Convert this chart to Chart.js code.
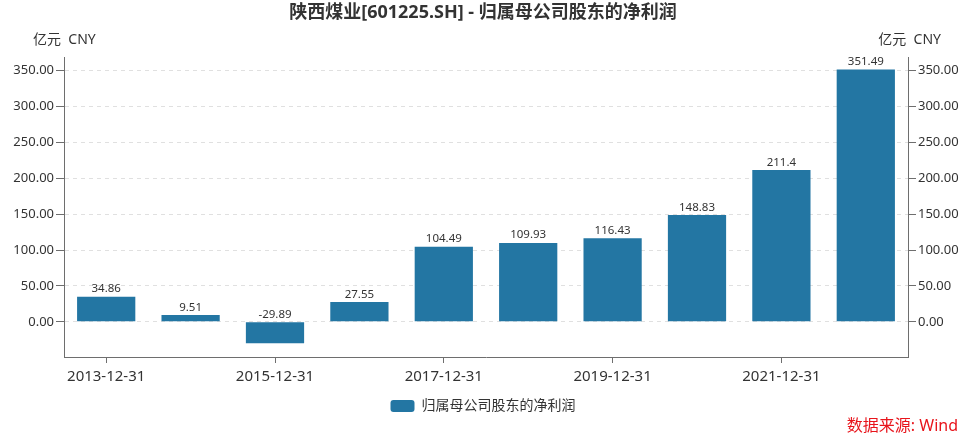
<!DOCTYPE html>
<html><head><meta charset="utf-8">
<script src="https://cdn.jsdelivr.net/npm/chart.js@4/dist/chart.umd.min.js"></script>
<style>html,body{margin:0;padding:0;background:#fff}#wrap{width:966px;height:438px}</style>
</head><body><div id="wrap"><canvas id="c" width="966" height="438"></canvas></div>
<script>
const categories = ["2013-12-31","2014-12-31","2015-12-31","2016-12-31","2017-12-31","2018-12-31","2019-12-31","2020-12-31","2021-12-31","2022-12-31"];
const seriesName = "归属母公司股东的净利润";
const values = [34.86, 9.51, -29.89, 27.55, 104.49, 109.93, 116.43, 148.83, 211.4, 351.49];
const valueLabels = ["34.86","9.51","-29.89","27.55","104.49","109.93","116.43","148.83","211.4","351.49"];
const yTicks = [0, 50, 100, 150, 200, 250, 300, 350];
const titleText = "陕西煤业[601225.SH] - 归属母公司股东的净利润";
const unitText = "亿元  CNY";
const sourceText = "数据来源: Wind";

const FONT = "'Noto Sans','Noto Sans CJK SC',sans-serif";
const BAR = "#2376a3";
const AXIS = "#6e6e6e";
const TXT = "#333333";

const extras = {
  id: 'extras',
  afterDatasetsDraw(chart) {
    const ctx = chart.ctx;
    const meta = chart.getDatasetMeta(0);
    ctx.save();
    ctx.font = "11.5px " + FONT;
    ctx.fillStyle = TXT;
    ctx.textAlign = 'center';
    ctx.textBaseline = 'bottom';
    meta.data.forEach((el, i) => {
      const top = Math.min(el.y, el.base);
      ctx.fillText(valueLabels[i], el.x, top - 2);
    });
    ctx.restore();
  },
  afterDraw(chart) {
    const ctx = chart.ctx;
    ctx.save();
    ctx.font = "14px " + FONT;
    ctx.fillStyle = TXT;
    ctx.textBaseline = 'middle';
    ctx.textAlign = 'left';
    ctx.fillText(unitText, 33, 40);
    ctx.textAlign = 'right';
    ctx.fillText(unitText, 941, 40);
    ctx.font = "16px " + FONT;
    ctx.fillStyle = '#e8141b';
    ctx.fillText(sourceText, 958, 426);
    ctx.restore();
  }
};

new Chart(document.getElementById('c'), {
  type: 'bar',
  data: {
    labels: categories,
    datasets: [{
      label: seriesName,
      data: values,
      backgroundColor: BAR,
      borderWidth: 0,
      barPercentage: 0.69,
      categoryPercentage: 1.0
    }]
  },
  options: {
    responsive: false,
    animation: false,
    devicePixelRatio: 1,
    layout: { padding: { left: 0, right: 0, top: 0, bottom: 15 } },
    plugins: {
      title: {
        display: true,
        text: titleText,
        color: TXT,
        font: { family: FONT, size: 18, weight: 'bold' },
        padding: { top: 2, bottom: 33.4 }
      },
      legend: {
        display: true,
        position: 'bottom',
        labels: {
          color: TXT,
          font: { family: FONT, size: 14 },
          boxWidth: 24,
          boxHeight: 12,
          padding: 6,
          useBorderRadius: true,
          borderRadius: 3
        }
      },
      tooltip: { enabled: false }
    },
    scales: {
      x: {
        type: 'category',
        offset: true,
        grid: { offset: false, drawOnChartArea: false, drawTicks: true, tickLength: 6, tickColor: AXIS },
        border: { display: true, color: AXIS, width: 1 },
        ticks: {
          autoSkip: false, maxRotation: 0, color: TXT, padding: 5,
          font: { family: FONT, size: 15 },
          callback: function(v, i) { return i % 2 === 0 ? categories[i] : null; }
        },
        afterFit(s) { s.height = 36; }
      },
      y: {
        position: 'left',
        min: -49, max: 369,
        afterBuildTicks(s) { s.ticks = yTicks.map(v => ({ value: v })); },
        grid: { color: '#e0e0e0', drawTicks: true, tickLength: 8, tickColor: AXIS },
        border: { display: true, color: AXIS, width: 1, dash: [4, 4] },
        ticks: { color: TXT, padding: 2, font: { family: FONT, size: 13 }, callback: v => Number(v).toFixed(2) },
        afterFit(s) { s.width = 64; }
      },
      y2: {
        position: 'right',
        display: true,
        min: -49, max: 369,
        afterBuildTicks(s) { s.ticks = yTicks.map(v => ({ value: v })); },
        grid: { drawOnChartArea: false, drawTicks: true, tickLength: 8, tickColor: AXIS },
        border: { display: true, color: AXIS, width: 1 },
        ticks: { color: TXT, padding: 2, font: { family: FONT, size: 13 }, callback: v => Number(v).toFixed(2) },
        afterFit(s) { s.width = 58; }
      }
    }
  },
  plugins: [extras]
});
</script>
</body></html>
